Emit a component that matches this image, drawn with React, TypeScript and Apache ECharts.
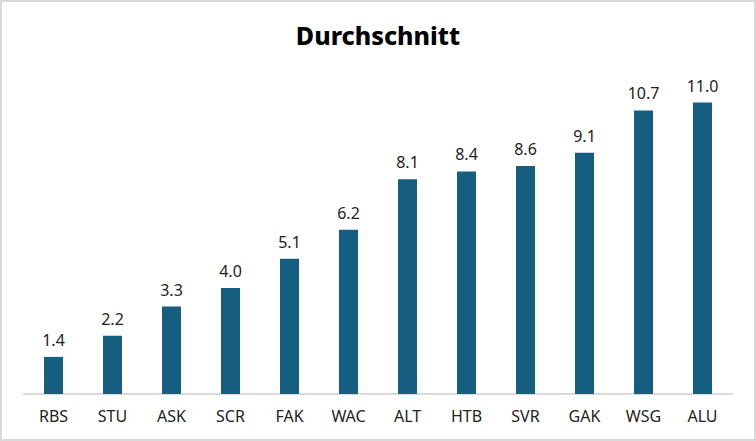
import React, { useEffect, useRef } from "react";
import * as echarts from "echarts";

const categories = ["RBS", "STU", "ASK", "SCR", "FAK", "WAC", "ALT", "HTB", "SVR", "GAK", "WSG", "ALU"];
const values = [1.4, 2.2, 3.3, 4.0, 5.1, 6.2, 8.1, 8.4, 8.6, 9.1, 10.7, 11.0];
const titleText = "Durchschnitt";

export default function App() {
  const ref = useRef<HTMLDivElement>(null);
  useEffect(() => {
    const chart = echarts.init(ref.current!, undefined, { renderer: "svg" });
    chart.setOption({
      animation: false,
      backgroundColor: "#ffffff",
      title: {
        text: titleText,
        left: "center",
        top: 15,
        textStyle: { fontFamily: "Noto Sans", fontWeight: 800, fontSize: 25, color: "#000000" },
      },
      grid: { left: 22, right: 22, top: 74, bottom: 45 },
      xAxis: {
        type: "category",
        data: categories,
        axisLine: { lineStyle: { color: "#d9d9d9", width: 2 } },
        axisTick: { show: false },
        axisLabel: { color: "#222222", fontSize: 16, fontFamily: "Noto Sans", margin: 14 },
      },
      yAxis: {
        type: "value",
        min: 0,
        max: 12,
        show: false,
        splitLine: { show: false },
      },
      series: [
        {
          type: "bar",
          data: values,
          barWidth: 19,
          itemStyle: { color: "#165e80" },
          label: {
            show: true,
            position: "top",
            distance: 9,
            fontSize: 16,
            fontFamily: "Noto Sans",
            color: "#222222",
            formatter: (p: any) => Number(p.value).toFixed(1),
          },
        },
      ],
    });
    return () => chart.dispose();
  }, []);
  return (
    <div
      style={{
        width: 756,
        height: 441,
        boxSizing: "border-box",
        border: "2px solid #d9d9d9",
        position: "absolute",
        left: 0,
        top: 0,
        background: "#fff",
      }}
    >
      <div ref={ref} style={{ width: 752, height: 437 }} />
    </div>
  );
}
